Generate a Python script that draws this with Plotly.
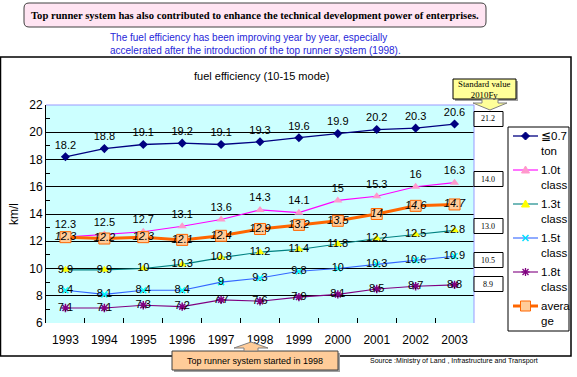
import plotly.graph_objects as go

# ---------------- data ----------------
years = ["1993", "1994", "1995", "1996", "1997", "1998", "1999", "2000", "2001", "2002", "2003"]
series_names = ["≦0.7 ton", "1.0t class", "1.3t class", "1.5t class", "1.8t class", "average"]
legend_labels = [["≦0.7", "ton"], ["1.0t", "class"], ["1.3t", "class"], ["1.5t", "class"], ["1.8t", "class"], ["avera", "ge"]]
s_07 = [18.2, 18.8, 19.1, 19.2, 19.1, 19.3, 19.6, 19.9, 20.2, 20.3, 20.6]
s_10 = [12.3, 12.5, 12.7, 13.1, 13.6, 14.3, 14.1, 15.0, 15.3, 16.0, 16.3]
s_13 = [9.9, 9.9, 10.0, 10.3, 10.8, 11.2, 11.4, 11.8, 12.2, 12.5, 12.8]
s_15 = [8.4, 8.1, 8.4, 8.4, 9.0, 9.3, 9.8, 10.0, 10.3, 10.6, 10.9]
s_18 = [7.1, 7.1, 7.3, 7.2, 7.7, 7.6, 7.9, 8.1, 8.5, 8.7, 8.8]
s_avg = [12.3, 12.2, 12.3, 12.1, 12.4, 12.9, 13.2, 13.5, 14.0, 14.6, 14.7]
standard_values = ["21.2", "14.0", "13.0", "10.5", "8.9"]
y_ticks = [6, 8, 10, 12, 14, 16, 18, 20, 22]

# ---------------- geometry helpers (pixel -> paper) ----------------
W, H = 577, 377
L, R, T, B = 46, 474, 105, 323


def px(x):
    return (x - L) / (R - L)


def py(y):
    return (B - y) / (B - T)


def fmt(v):
    return f"{v:g}"


SANS = "Liberation Sans, Arial, sans-serif"
SERIF = "Liberation Serif, Times New Roman, serif"

fig = go.Figure()

styles = [
    dict(data=s_07, line=dict(color="#000080", width=1.3),
         marker=dict(symbol="diamond", size=7, color="#000080"), pos="top center", italic=False,
         lsym="diamond", lcol="#000080", lfill="#000080"),
    dict(data=s_10, line=dict(color="#FF00FF", width=1.1),
         marker=dict(symbol="triangle-up", size=8, color="#FF99CC"), pos="top center", italic=False,
         lsym="triangle", lcol="#FF99CC", lfill="#FF99CC"),
    dict(data=s_13, line=dict(color="#008080", width=1.1),
         marker=dict(symbol="triangle-up", size=8, color="#FFFF00"), pos="middle center", italic=False,
         lsym="triangle", lcol="#FFFF00", lfill="#FFFF00"),
    dict(data=s_15, line=dict(color="#3366FF", width=1.1),
         marker=dict(symbol="x-thin-open", size=6, color="#00FFFF", line=dict(color="#00DDFF", width=1.5)),
         pos="middle center", italic=False, lsym="x", lcol="#00DDFF", lfill=None),
    dict(data=s_18, line=dict(color="#800080", width=1.1),
         marker=dict(symbol="asterisk-open", size=7, color="#800080", line=dict(color="#800080", width=1.5)),
         pos="middle center", italic=False, lsym="asterisk", lcol="#800080", lfill=None),
    dict(data=s_avg, line=dict(color="#FF6600", width=3),
         marker=dict(symbol="square", size=11, color="#FFCC99", line=dict(color="#FF6600", width=1)),
         pos="middle center", italic=True, lsym="square", lcol="#FF6600", lfill="#FFCC99"),
]

for name, st in zip(series_names, styles):
    fig.add_trace(go.Scatter(
        x=years, y=st["data"], name=name, mode="lines+markers+text",
        line=st["line"], marker=st["marker"],
        text=[fmt(v) for v in st["data"]], textposition=st["pos"],
        textfont=dict(family=SANS, size=11, color="black",
                      style="italic" if st["italic"] else "normal"),
        cliponaxis=False, showlegend=False,
    ))

shapes = []
annotations = []

# outer chart frame
shapes.append(dict(type="rect", xref="paper", yref="paper",
                   x0=px(0.5), x1=px(571), y0=py(57), y1=py(356),
                   line=dict(color="black", width=1.5), layer="below"))
# light top / right border of plot area
shapes.append(dict(type="line", xref="paper", yref="paper", x0=0, x1=1, y0=1, y1=1,
                   line=dict(color="#9999FF", width=1)))
shapes.append(dict(type="line", xref="paper", yref="paper", x0=1, x1=1, y0=0, y1=1,
                   line=dict(color="#9999FF", width=1)))

# title rounded box
x0, x1, y0, y1, r = 24, 486, 3, 27, 5
path = (f"M {px(x0 + r)},{py(y0)} L {px(x1 - r)},{py(y0)} Q {px(x1)},{py(y0)} {px(x1)},{py(y0 + r)} "
        f"L {px(x1)},{py(y1 - r)} Q {px(x1)},{py(y1)} {px(x1 - r)},{py(y1)} "
        f"L {px(x0 + r)},{py(y1)} Q {px(x0)},{py(y1)} {px(x0)},{py(y1 - r)} "
        f"L {px(x0)},{py(y0 + r)} Q {px(x0)},{py(y0)} {px(x0 + r)},{py(y0)} Z")
shapes.append(dict(type="path", xref="paper", yref="paper", path=path,
                   fillcolor="#FFE4F2", line=dict(color="#404040", width=1)))
annotations.append(dict(xref="paper", yref="paper", x=px(255), y=py(15), showarrow=False,
                        text="<b>Top runner system has also contributed to enhance the technical development power of enterprises.</b>",
                        font=dict(family=SERIF, size=10.6, color="black"), xanchor="center", yanchor="middle"))

# subtitle
annotations.append(dict(xref="paper", yref="paper", x=px(108), y=py(44), showarrow=False, align="left",
                        text="The fuel efficiency has been improving year by year, especially<br>accelerated after the introduction of the top runner system (1998).",
                        font=dict(family=SANS, size=10, color="#2626D9"), xanchor="left", yanchor="middle"))

# chart title
annotations.append(dict(xref="paper", yref="paper", x=px(262), y=py(76), showarrow=False,
                        text="fuel efficiency (10-15 mode)",
                        font=dict(family=SANS, size=11, color="black"), xanchor="center", yanchor="middle"))

# standard value callout
shapes.append(dict(type="rect", xref="paper", yref="paper", x0=px(455), x1=px(518), y0=py(81), y1=py(101),
                   fillcolor="#A0A0A0", line=dict(width=0)))
shapes.append(dict(type="rect", xref="paper", yref="paper", x0=px(453), x1=px(516), y0=py(79), y1=py(99),
                   fillcolor="#FFFF99", line=dict(color="black", width=1)))
arrow_down = (f"M {px(482)},{py(99)} L {px(498)},{py(99)} L {px(498)},{py(103)} L {px(507)},{py(103)} "
              f"L {px(490)},{py(110)} L {px(473)},{py(103)} L {px(482)},{py(103)} Z")
shapes.append(dict(type="path", xref="paper", yref="paper", path=arrow_down,
                   fillcolor="#FFFF99", line=dict(color="#808080", width=1)))
annotations.append(dict(xref="paper", yref="paper", x=px(484.5), y=py(89), showarrow=False,
                        text="Standard value<br>2010Fy",
                        font=dict(family=SERIF, size=8.8, color="black"), xanchor="center", yanchor="middle"))

# standard value boxes
box_centers = [119, 179, 226, 260, 284]
for val, yc in zip(standard_values, box_centers):
    shapes.append(dict(type="rect", xref="paper", yref="paper", x0=px(474), x1=px(503),
                       y0=py(yc - 7.5), y1=py(yc + 7.5), fillcolor="white",
                       line=dict(color="black", width=1)))
    annotations.append(dict(xref="paper", yref="paper", x=px(488.5), y=py(yc), showarrow=False,
                            text=val, font=dict(family=SERIF, size=8, color="black"),
                            xanchor="center", yanchor="middle"))

# custom legend
shapes.append(dict(type="rect", xref="paper", yref="paper", x0=px(508), x1=px(569), y0=py(127), y1=py(331),
                   fillcolor="white", line=dict(color="black", width=1)))
leg_y = [136, 170, 204, 238, 272, 306]
for (l1, l2), st, yc in zip(legend_labels, styles, leg_y):
    cx = 525.5
    shapes.append(dict(type="line", xref="paper", yref="paper", x0=px(513), x1=px(538), y0=py(yc), y1=py(yc),
                       line=dict(color=st["line"]["color"], width=st["line"]["width"])))
    s = st["lsym"]
    if s == "diamond":
        p = f"M {px(cx)},{py(yc-4)} L {px(cx+4)},{py(yc)} L {px(cx)},{py(yc+4)} L {px(cx-4)},{py(yc)} Z"
        shapes.append(dict(type="path", xref="paper", yref="paper", path=p, fillcolor=st["lfill"],
                           line=dict(color=st["lcol"], width=1)))
    elif s == "triangle":
        p = f"M {px(cx)},{py(yc-4)} L {px(cx+4)},{py(yc+3)} L {px(cx-4)},{py(yc+3)} Z"
        shapes.append(dict(type="path", xref="paper", yref="paper", path=p, fillcolor=st["lfill"],
                           line=dict(color=st["lcol"], width=1)))
    elif s == "square":
        shapes.append(dict(type="rect", xref="paper", yref="paper", x0=px(cx-5), x1=px(cx+5),
                           y0=py(yc-5), y1=py(yc+5), fillcolor=st["lfill"],
                           line=dict(color=st["lcol"], width=1)))
    elif s == "x":
        for a, b in [((-3, -3), (3, 3)), ((-3, 3), (3, -3))]:
            shapes.append(dict(type="line", xref="paper", yref="paper", x0=px(cx+a[0]), y0=py(yc+a[1]),
                               x1=px(cx+b[0]), y1=py(yc+b[1]), line=dict(color=st["lcol"], width=1.5)))
    elif s == "asterisk":
        for a, b in [((-3, -3), (3, 3)), ((-3, 3), (3, -3)), ((0, -4), (0, 4)), ((-4, 0), (4, 0))]:
            shapes.append(dict(type="line", xref="paper", yref="paper", x0=px(cx+a[0]), y0=py(yc+a[1]),
                               x1=px(cx+b[0]), y1=py(yc+b[1]), line=dict(color=st["lcol"], width=1.3)))
    annotations.append(dict(xref="paper", yref="paper", x=px(539), y=py(yc), showarrow=False,
                            text=l1, font=dict(family=SANS, size=11.5, color="black"),
                            xanchor="left", yanchor="middle"))
    annotations.append(dict(xref="paper", yref="paper", x=px(539), y=py(yc + 15), showarrow=False,
                            text=l2, font=dict(family=SANS, size=11.5, color="black"),
                            xanchor="left", yanchor="middle"))

# bottom callout
shapes.append(dict(type="rect", xref="paper", yref="paper", x0=px(174), x1=px(340), y0=py(353), y1=py(372),
                   fillcolor="#A0A0A0", line=dict(width=0)))
shapes.append(dict(type="rect", xref="paper", yref="paper", x0=px(172), x1=px(338), y0=py(351), y1=py(370),
                   fillcolor="#FFCC99", line=dict(color="#404040", width=1)))
arrow_up = (f"M {px(244)},{py(351)} L {px(258)},{py(351)} L {px(258)},{py(348)} L {px(268)},{py(348)} "
            f"L {px(251)},{py(342)} L {px(234)},{py(348)} L {px(244)},{py(348)} Z")
shapes.append(dict(type="path", xref="paper", yref="paper", path=arrow_up,
                   fillcolor="#FFCC99", line=dict(color="#808080", width=1)))
annotations.append(dict(xref="paper", yref="paper", x=px(255), y=py(360.5), showarrow=False,
                        text="Top runner system started in 1998",
                        font=dict(family=SANS, size=9, color="black"), xanchor="center", yanchor="middle"))

# source
annotations.append(dict(xref="paper", yref="paper", x=px(368), y=py(361), showarrow=False,
                        text="Source :Ministry of Land , Infrastructure and Transport",
                        font=dict(family=SANS, size=7, color="black"), xanchor="left", yanchor="middle"))

fig.update_layout(
    width=W, height=H,
    margin=dict(l=L, r=W - R, t=T, b=H - B, pad=0),
    paper_bgcolor="white", plot_bgcolor="#CCFFFF",
    font=dict(family=SANS, size=12, color="black"),
    showlegend=False,
    shapes=shapes, annotations=annotations,
    xaxis=dict(type="category", range=[-0.5, 10.5], showgrid=False, zeroline=False,
               ticks="inside", tickson="boundaries", ticklen=5, tickcolor="black",
               showline=False, tickfont=dict(size=12), ticklabelstandoff=8, automargin=False),
    yaxis=dict(range=[6, 22], tickvals=y_ticks, showgrid=True, gridcolor="black", gridwidth=1,
               zeroline=False, showline=True, linecolor="black", linewidth=1,
               ticks="inside", ticklen=4, tickcolor="black",
               minor=dict(ticks="inside", dtick=1, ticklen=4, tickcolor="black", showgrid=False),
               tickfont=dict(size=12), automargin=False,
               title=dict(text="km/l", font=dict(size=12), standoff=8)),
)

fig.write_html("out.html", config={"displayModeBar": False},
               post_script="document.body.style.margin='0';document.body.style.padding='0';document.body.style.overflow='hidden';")
